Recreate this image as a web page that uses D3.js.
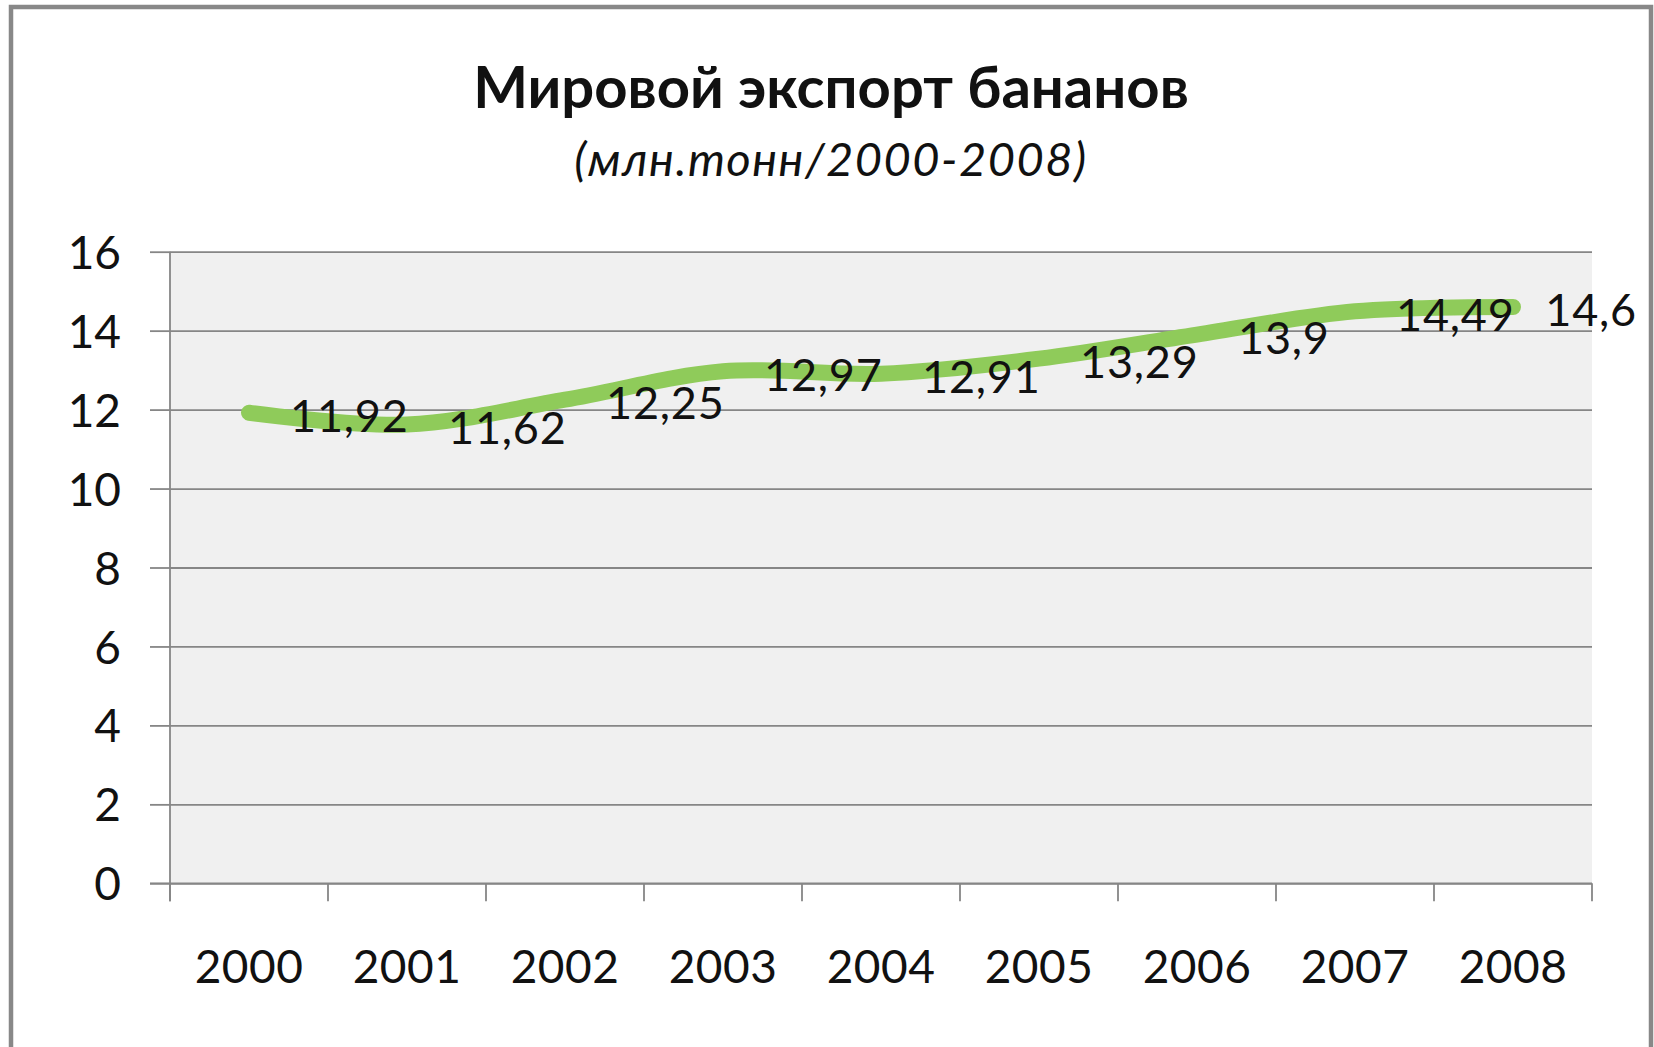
<!DOCTYPE html>
<html>
<head>
<meta charset="utf-8">
<script src="https://cdn.jsdelivr.net/npm/d3@7/dist/d3.min.js"></script>
<style>
  html, body { margin: 0; padding: 0; background: #ffffff; }
  svg { display: block; }
  text { font-family: Lato, "Noto Sans", "Open Sans", sans-serif; fill: #111; }
</style>
</head>
<body>
<svg id="chart" width="1654" height="1047"></svg>
<script>
// ---- data ----
const years = ["2000", "2001", "2002", "2003", "2004", "2005", "2006", "2007", "2008"];
const exportValues = [11.92, 11.62, 12.25, 12.97, 12.91, 13.29, 13.9, 14.49, 14.6];
const yTicks = [0, 2, 4, 6, 8, 10, 12, 14, 16];
const titleText = "Мировой экспорт бананов";
const subtitleText = "(млн.тонн/2000-2008)";

// ---- layout ----
const W = 1654, H = 1047;
const plot = { left: 170, right: 1592, top: 251.7, bottom: 883.3 };
const chartRightLimit = 1637;

const svg = d3.select("#chart");

// outer frame
svg.append("rect")
  .attr("x", 11).attr("y", 7)
  .attr("width", 1640).attr("height", 1100)
  .attr("fill", "#ffffff")
  .attr("stroke", "#888888")
  .attr("stroke-width", 4.5);

// scales
const x = d3.scaleBand().domain(years).range([plot.left, plot.right]).paddingInner(0).paddingOuter(0);
const y = d3.scaleLinear().domain([0, 16]).range([plot.bottom, plot.top]);

// plot background
svg.append("rect")
  .attr("x", plot.left).attr("y", plot.top)
  .attr("width", plot.right - plot.left).attr("height", plot.bottom - plot.top)
  .attr("fill", "#f0f0f0");

// gridlines (axis with long ticks, no labels)
const grid = svg.append("g")
  .attr("transform", `translate(${plot.left},0)`)
  .call(d3.axisLeft(y).tickValues(yTicks).tickSize(-(plot.right - plot.left)).tickFormat(""));
grid.select(".domain").remove();
grid.selectAll("line").attr("stroke", "#868686").attr("stroke-width", 1.8);

// y axis with labels and short outside ticks
const yAxis = svg.append("g")
  .attr("transform", `translate(${plot.left},0)`)
  .call(d3.axisLeft(y).tickValues(yTicks).tickSize(20).tickPadding(29).tickFormat(d => d));
yAxis.select(".domain").attr("stroke", "#868686").attr("stroke-width", 1.8)
  .attr("d", `M0,${plot.top}V${plot.bottom + 18}`);
yAxis.selectAll("line").attr("stroke", "#868686").attr("stroke-width", 1.8);
yAxis.selectAll("text")
  .style("font-family", "Lato, 'Noto Sans', sans-serif")
  .style("font-size", "46px")
  .attr("fill", "#111")
  .attr("dy", "0.36em");

// x axis: baseline, boundary ticks, centered labels
const xAxis = svg.append("g")
  .attr("transform", `translate(0,${plot.bottom})`)
  .call(d3.axisBottom(x).tickSize(0).tickPadding(83));
xAxis.select(".domain").attr("stroke", "#868686").attr("stroke-width", 1.8)
  .attr("d", `M${plot.left - 20},0H${plot.right}`);
xAxis.selectAll("text")
  .style("font-family", "Lato, 'Noto Sans', sans-serif")
  .style("font-size", "46px")
  .style("letter-spacing", "0.5px")
  .attr("fill", "#111")
  .attr("dy", "0.36em");

const boundaries = years.map(d => x(d)).concat([x(years[years.length - 1]) + x.bandwidth()]);
xAxis.selectAll("line.bound")
  .data(boundaries)
  .join("line")
  .attr("class", "bound")
  .attr("x1", d => d).attr("x2", d => d)
  .attr("y1", 0).attr("y2", 18)
  .attr("stroke", "#868686").attr("stroke-width", 1.8);

// data line
const pts = years.map((yr, i) => [x(yr) + x.bandwidth() / 2, y(exportValues[i])]);
const lineGen = d3.line().curve(d3.curveCardinal.tension(0));
svg.append("path")
  .attr("d", lineGen(pts))
  .attr("fill", "none")
  .attr("stroke", "#8fcb5a")
  .attr("stroke-width", 16)
  .attr("stroke-linecap", "round")
  .attr("stroke-linejoin", "round");

// data labels (to the right of each point)
const labels = svg.append("g");
years.forEach((yr, i) => {
  const t = labels.append("text")
    .attr("y", y(exportValues[i]) + 3)
    .attr("dy", "0.36em")
    .style("font-size", "45px")
    .style("letter-spacing", "0.8px")
    .text(String(exportValues[i]).replace(".", ","));
  const w = t.node().getComputedTextLength();
  const px = pts[i][0] + 41;
  t.attr("x", Math.min(px, chartRightLimit - w));
});

// titles
svg.append("text")
  .attr("x", 831).attr("y", 108)
  .attr("text-anchor", "middle")
  .style("font-size", "58px")
  .style("font-weight", "bold")
  .attr("fill", "#000")
  .text(titleText);

svg.append("text")
  .attr("x", 831).attr("y", 176)
  .attr("text-anchor", "middle")
  .style("font-size", "47px")
  .style("font-style", "italic")
  .style("letter-spacing", "1.5px")
  .attr("fill", "#111")
  .text(subtitleText);
</script>
</body>
</html>
